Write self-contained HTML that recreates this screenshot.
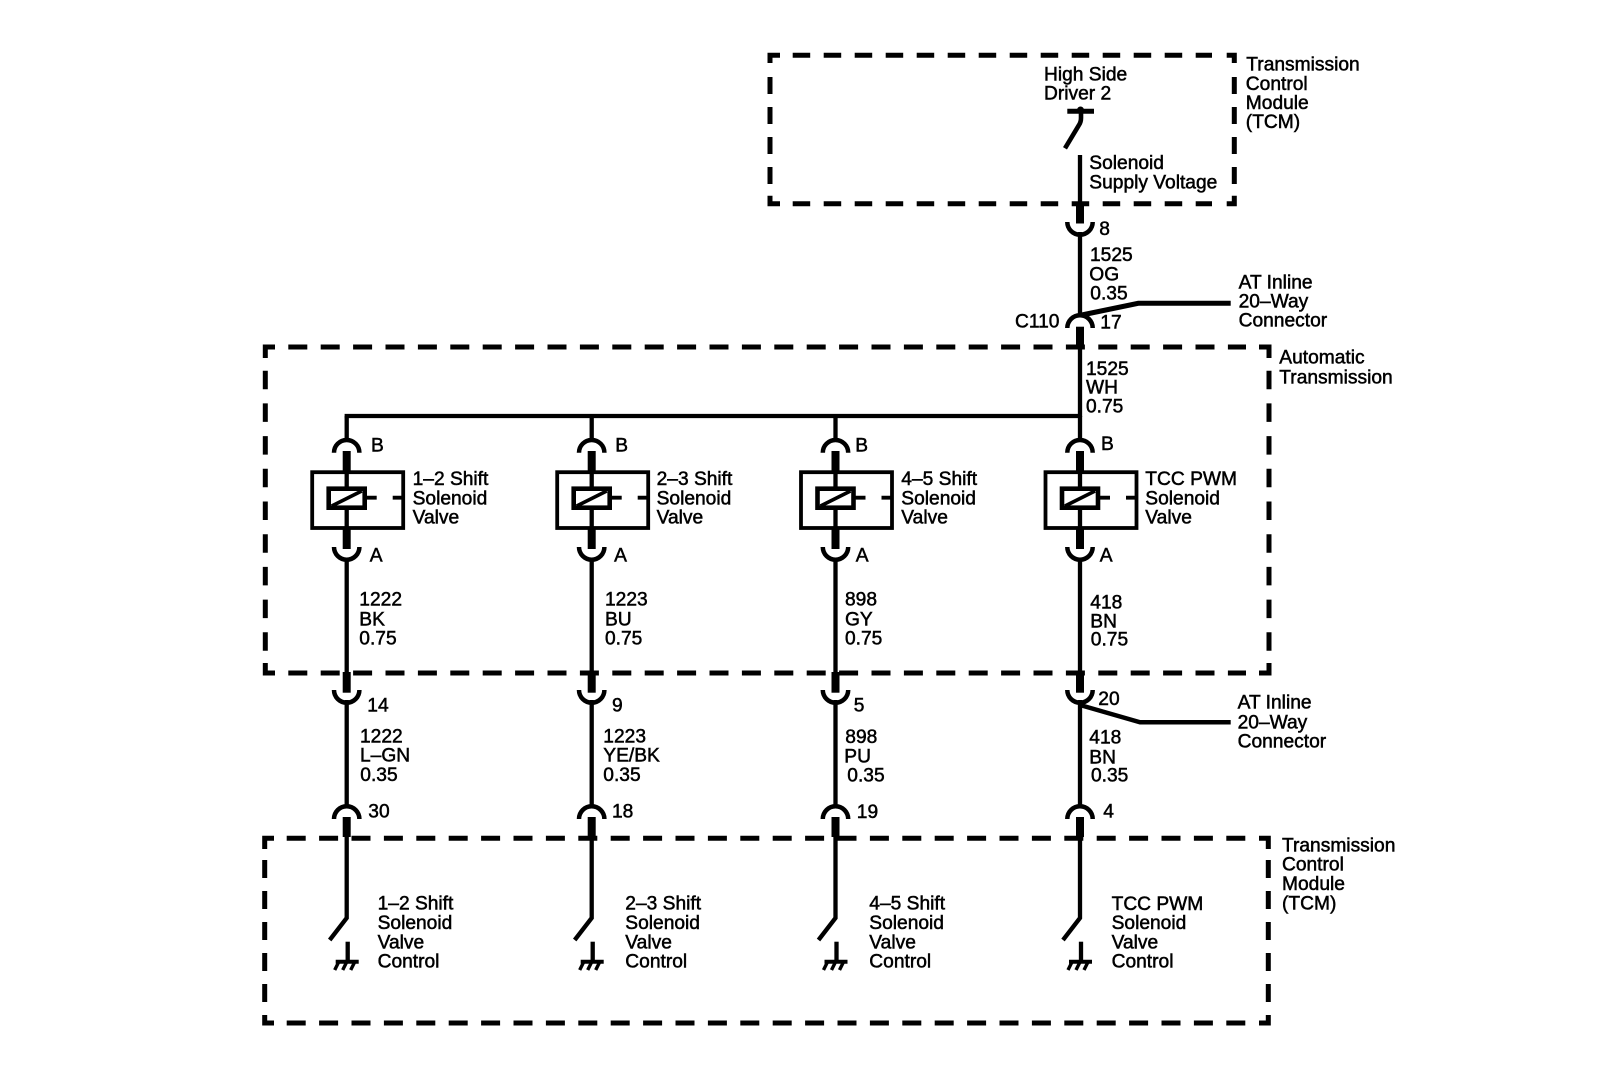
<!DOCTYPE html>
<html><head><meta charset="utf-8"><title>Solenoid wiring diagram</title>
<style>
html,body{margin:0;padding:0;background:#fff}
svg{display:block}
text{font-family:"Liberation Sans",sans-serif;font-size:19.2px;fill:#000;stroke:#000;stroke-width:.5px}
.w{stroke:#000;stroke-width:4.3;fill:none}
.t{stroke:#000;stroke-width:8;fill:none}
.a{stroke:#000;stroke-width:4.5;fill:none}
.f{stroke:#000;stroke-width:5;fill:none}
.h{stroke-dasharray:19 13.4}
.v{stroke-dasharray:18.5 14.2}
</style></head><body>
<svg width="1600" height="1072" viewBox="0 0 1600 1072" xmlns="http://www.w3.org/2000/svg">
<rect width="1600" height="1072" fill="#fff"/>
<defs>
<path id="up" class="a" d="M-12.7 1A12.7 12.7 0 0 1 12.7 1"/>
<path id="dn" class="a" d="M-12.7 -1A12.7 12.7 0 0 0 12.7 -1"/>
<g id="col">
  <path class="w" d="M0 416V440"/>
  <use href="#up" y="451.7"/>
  <path class="t" d="M0 451V471"/>
  <rect x="-34.5" y="472.2" width="91" height="55.8" fill="#fff" stroke="#000" stroke-width="3.8"/>
  <path class="w" d="M0 472V528"/>
  <rect x="-18" y="488.7" width="36" height="19" fill="#fff" stroke="#000" stroke-width="4.6"/>
  <path d="M-15 506L15 491" stroke="#000" stroke-width="3.6" fill="none"/>
  <path d="M20 497.7H30M46 497.7H57" stroke="#000" stroke-width="3.8" fill="none"/>
  <path class="t" d="M0 529V549"/>
  <use href="#dn" y="548"/>
  <path class="w" d="M0 558V674"/>
  <path class="t" d="M0 672V692.7"/>
  <use href="#dn" y="691"/>
  <path class="w" d="M0 700V806"/>
  <use href="#up" y="818"/>
  <path class="t" d="M0 817V837"/>
  <path class="w" d="M0 836V918L-17 940"/>
  <path class="w" d="M1 941.7V962"/>
  <path d="M-11 961.7H12" stroke="#000" stroke-width="4" fill="none"/>
  <path d="M-8 962L-12 970M0 962L-4 970M8 962L4 970" stroke="#000" stroke-width="3.4" fill="none"/>
</g>
</defs>

<!-- Top TCM frame -->
<path class="f" d="M770 63V55.3H780M1226.7 55.3H1234.3V63M1234.3 195.7V203.7H1226.7M780 203.7H770V195.7"/>
<path class="f" style="stroke-dasharray:17.5 13.5" d="M792.7 55.3H1212M792.7 203.7H1212"/>
<path class="f" style="stroke-dasharray:17 13" d="M770 77V190M1234.3 77V190"/>

<!-- Automatic transmission frame -->
<path class="f" d="M265.3 358V347H275M1259 347H1269V358M1269 663V673H1259M275 673H265.3V663"/>
<path class="f h" d="M288.3 347H1246M288.3 673H1246"/>
<path class="f v" d="M265.3 370.7V652M1269 370.7V652"/>

<!-- Lower TCM frame -->
<path class="f" d="M264.7 849V838.3H274M1259 838.3H1268.3V849M1268.3 1015V1023H1259M274 1023H264.7V1015"/>
<path class="f h" d="M286.7 838.3H1246M286.7 1023H1246"/>
<path class="f" style="stroke-dasharray:18 13" d="M264.7 860V1002M1268.3 860V1002"/>

<!-- Bus -->
<path d="M344.6 416H1080" stroke="#000" stroke-width="4.3" fill="none"/>
<use href="#col" x="346.7"/>
<use href="#col" x="591.7"/>
<use href="#col" x="835.5"/>
<use href="#col" x="1080"/>

<!-- Main wire column top -->
<path class="w" d="M1080 155V204"/>
<path class="t" d="M1080 203V223.5"/>
<use href="#dn" x="1080" y="223"/>
<path class="w" d="M1080 232V315"/>
<use href="#up" x="1080" y="327"/>
<path class="t" d="M1080 326.7V348"/>
<path class="w" d="M1080 346V417"/>
<path d="M1067.3 111.3H1094" stroke="#000" stroke-width="5" fill="none"/>
<circle cx="1080.5" cy="110" r="3.5" fill="#000"/>
<path d="M1081 110V118Q1081 122 1079 125L1065 148.3" stroke="#000" stroke-width="4.6" fill="none"/>
<path d="M1081.7 315L1138.3 303.3H1230.7" stroke="#000" stroke-width="5" fill="none"/>
<path d="M1080 705L1140 722.3H1230.7" stroke="#000" stroke-width="4.5" fill="none"/>

<!-- Labels -->
<g transform="translate(-0.7 0)">
<text x="1247" y="70.7">Transmission</text><text x="1246.5" y="90">Control</text><text x="1246.5" y="109">Module</text><text x="1246.5" y="128">(TCM)</text>
<text x="1044.7" y="80.7">High Side</text><text x="1044.7" y="99.3">Driver 2</text>
<text x="1090" y="169">Solenoid</text><text x="1090" y="188.3">Supply Voltage</text>
<text x="1100" y="235">8</text>
<text x="1090.7" y="261">1525</text><text x="1090" y="280.7">OG</text><text x="1091" y="299.3">0.35</text>
<text x="1239.3" y="288.3">AT Inline</text><text x="1239.3" y="307.7">20–Way</text><text x="1239.3" y="326.7">Connector</text>
<text x="1015.7" y="327.3">C110</text><text x="1101" y="328.7">17</text>
<text x="1280" y="363.3">Automatic</text><text x="1280" y="383.3">Transmission</text>
<text x="1086.7" y="375">1525</text><text x="1086.7" y="393.3">WH</text><text x="1086.7" y="412.7">0.75</text>

<text x="371.7" y="451.7">B</text><text x="616" y="451.7">B</text><text x="856" y="451.7">B</text><text x="1101.7" y="450">B</text>
<text x="370.5" y="561.7">A</text><text x="614.8" y="561.7">A</text><text x="856.5" y="561.7">A</text><text x="1100.5" y="561.7">A</text>

<text x="413.3" y="485">1–2 Shift</text><text x="413.3" y="504.3">Solenoid</text><text x="413.3" y="523.3">Valve</text>
<text x="657.3" y="485">2–3 Shift</text><text x="657.3" y="504.3">Solenoid</text><text x="657.3" y="523.3">Valve</text>
<text x="902" y="485">4–5 Shift</text><text x="902" y="504.3">Solenoid</text><text x="902" y="523.3">Valve</text>
<text x="1146" y="485">TCC PWM</text><text x="1146" y="504.3">Solenoid</text><text x="1146" y="523.3">Valve</text>

<text x="360" y="605.7">1222</text><text x="360" y="625.3">BK</text><text x="360" y="644.3">0.75</text>
<text x="605.7" y="605.7">1223</text><text x="605.7" y="625.3">BU</text><text x="605.7" y="644.3">0.75</text>
<text x="845.7" y="605.7">898</text><text x="845.7" y="625.3">GY</text><text x="845.7" y="644.3">0.75</text>
<text x="1091" y="608.3">418</text><text x="1091" y="627.7">BN</text><text x="1091.5" y="645.3">0.75</text>

<text x="368" y="711.7">14</text><text x="612.7" y="711.7">9</text><text x="854.5" y="711.7">5</text><text x="1099" y="705">20</text>
<text x="1238.3" y="708.7">AT Inline</text><text x="1238.3" y="728.3">20–Way</text><text x="1238.3" y="747.3">Connector</text>

<text x="360.7" y="742.7">1222</text><text x="360.7" y="761.7">L–GN</text><text x="361" y="781">0.35</text>
<text x="604" y="742.7">1223</text><text x="604" y="761.7">YE/BK</text><text x="604" y="781">0.35</text>
<text x="846" y="743">898</text><text x="845" y="762.5">PU</text><text x="848" y="781.5">0.35</text>
<text x="1090" y="743.3">418</text><text x="1090" y="763.3">BN</text><text x="1091.7" y="781.7">0.35</text>

<text x="369" y="817.3">30</text><text x="612.7" y="817.3">18</text><text x="857.5" y="818">19</text><text x="1104" y="817.3">4</text>

<text x="378.3" y="909.3">1–2 Shift</text><text x="378.3" y="929">Solenoid</text><text x="378.3" y="948.3">Valve</text><text x="378.3" y="967.3">Control</text>
<text x="626" y="909.3">2–3 Shift</text><text x="626" y="929">Solenoid</text><text x="626" y="948.3">Valve</text><text x="626" y="967.3">Control</text>
<text x="870" y="909.3">4–5 Shift</text><text x="870" y="929">Solenoid</text><text x="870" y="948.3">Valve</text><text x="870" y="967.3">Control</text>
<text x="1112.3" y="910">TCC PWM</text><text x="1112.3" y="929">Solenoid</text><text x="1112.3" y="948.3">Valve</text><text x="1112.3" y="967.3">Control</text>

<text x="1282.7" y="851.7">Transmission</text><text x="1282.7" y="870.7">Control</text><text x="1282.7" y="890">Module</text><text x="1282.7" y="909.3">(TCM)</text>
</g>
</svg>
</body></html>
